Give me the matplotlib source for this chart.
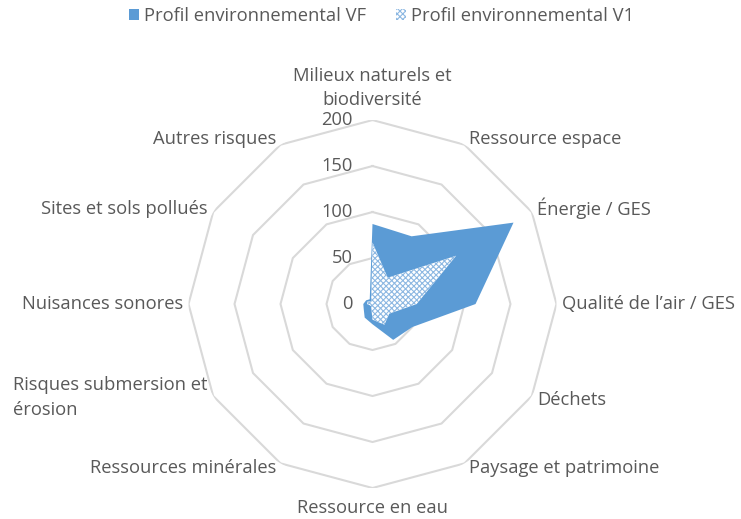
import numpy as np
import matplotlib
matplotlib.use('Agg')
from matplotlib import pyplot as plt
from matplotlib.patches import Patch

categories = ['Milieux naturels et\nbiodiversité', 'Ressource espace', 'Énergie / GES',
              'Qualité de l\u2019air / GES', 'Déchets', 'Paysage et patrimoine',
              'Ressource en eau', 'Ressources minérales', 'Risques submersion et\nérosion',
              'Nuisances sonores', 'Sites et sols pollués', 'Autres risques']
profil_vf = [87, 85, 177, 112, 50, 45, 22, 17, 11, 10, 8, 6]
profil_v1 = [67, 33, 105, 48, 21, 26, 17, 3, 3, 6, 6, 3]
r_ticks = [0, 50, 100, 150, 200]

plt.rcParams['font.family'] = ['Open Sans', 'DejaVu Sans']
plt.rcParams['hatch.linewidth'] = 0.8
txt_color = '#595959'
grid_color = '#D9D9D9'
hatch_color = '#8DB8E2'
fs = 13.2

n = len(categories)
theta = np.linspace(0, 2 * np.pi, n, endpoint=False)
theta_c = np.append(theta, theta[0])

fig = plt.figure(figsize=(7.41, 5.19), dpi=100)
ax = fig.add_axes([0.2544, 0.0597, 0.4966, 0.709], projection='polar')
ax.set_theta_offset(np.pi / 2)
ax.set_theta_direction(-1)
ax.set_ylim(0, 200)
ax.grid(False)
ax.spines['polar'].set_visible(False)
ax.set_xticks([])
ax.set_yticks([])
ax.patch.set_alpha(0)

# grille polygonale (pas de rayons)
for r in r_ticks[1:]:
    ax.plot(theta_c, [r] * (n + 1), color=grid_color, lw=1.5, zorder=1)

vf = np.append(profil_vf, profil_vf[0])
v1 = np.append(profil_v1, profil_v1[0])
ax.fill(theta_c, vf, color='#5B9BD5', lw=0, zorder=2)
ax.fill(theta_c, v1, facecolor='white', edgecolor=hatch_color, hatch='xxxxxx', lw=0, zorder=3)

# graduations
for r in r_ticks:
    ax.annotate(str(r), xy=(0, r), xytext=(-14, 0), textcoords='offset points',
                ha='right', va='center', fontsize=fs, color=txt_color, annotation_clip=False)

# libellés des catégories
offsets = [(0, 8, 'center', 'bottom'), (3, 4, 'left', 'center'), (4, 3, 'left', 'center'),
           (4, 0, 'left', 'center'), (4, -3, 'left', 'center'), (3, -3, 'left', 'center'),
           (0, -8, 'center', 'top'), (-3, -3, 'right', 'center'), (-4, -1, 'right', 'center'),
           (-4, 0, 'right', 'center'), (-4, 2, 'right', 'center'), (-3, 4, 'right', 'center')]
for t, lab, (dx, dy, ha, va) in zip(theta, categories, offsets):
    ax.annotate(lab, xy=(t, 200), xytext=(dx, dy), textcoords='offset points',
                ha=ha, va=va, multialignment='left' if ha == 'right' else 'center',
                fontsize=fs, color=txt_color, linespacing=1.45, annotation_clip=False)

handles = [Patch(facecolor='#5B9BD5', lw=0, label='Profil environnemental VF'),
           Patch(facecolor='white', edgecolor=hatch_color, hatch='xxxxxx', lw=0,
                 label='Profil environnemental V1')]
leg = fig.legend(handles=handles, loc='center', bbox_to_anchor=(0.515, 0.969), ncol=2,
                 frameon=False, handlelength=0.55, handleheight=0.55, handletextpad=0.3,
                 columnspacing=1.6, fontsize=fs)
for t in leg.get_texts():
    t.set_color(txt_color)

plt.savefig('out.png', dpi=100)
